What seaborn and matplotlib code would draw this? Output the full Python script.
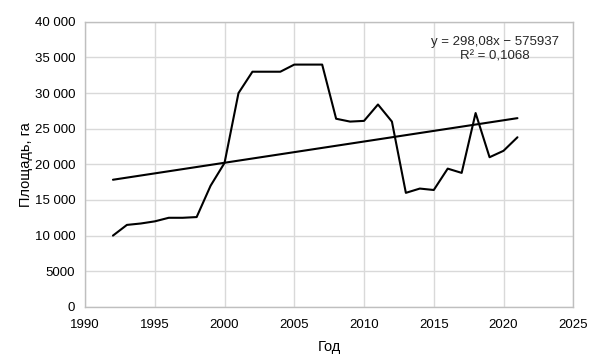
import numpy as np
import pandas as pd
import matplotlib
matplotlib.use("Agg")
import matplotlib.pyplot as plt
import matplotlib.ticker as mticker
import seaborn as sns

years = list(range(1992, 2022))
area = [10000, 11500, 11700, 12000, 12500, 12500, 12600, 17000, 20200, 30000,
        33000, 33000, 33000, 34000, 34000, 34000, 26400, 26000, 26100, 28400,
        26000, 16000, 16600, 16400, 19400, 18800, 27200, 21000, 21900, 23800]

# коэффициенты линии тренда с подписи
slope = 298.08
intercept = -575937
r2 = 0.1068

df = pd.DataFrame({"Год": years, "Площадь": area})
df["Тренд"] = slope * df["Год"] + intercept

sns.set_theme(style="whitegrid")
plt.rcParams["font.family"] = ["Liberation Sans", "DejaVu Sans"]

fig = plt.figure(figsize=(5.99, 3.64), dpi=100)
ax = fig.add_axes([0.142, 0.157, 0.815, 0.783])

sns.lineplot(data=df, x="Год", y="Площадь", color="black", linewidth=1.5, ax=ax)
sns.lineplot(data=df, x="Год", y="Тренд", color="black", linewidth=1.5, ax=ax)

ax.set_xlim(1990, 2025)
ax.set_ylim(0, 40000)
ax.xaxis.set_major_locator(mticker.MultipleLocator(5))
ax.yaxis.set_major_locator(mticker.MultipleLocator(5000))

def fmt(v, pos):
    v = int(v)
    if v >= 10000:
        return f"{v:,}".replace(",", " ")
    return str(v)

ax.yaxis.set_major_formatter(mticker.FuncFormatter(fmt))

ax.grid(True, color="#d9d9d9", linewidth=1)
for s in ax.spines.values():
    s.set_color("#bfbfbf")
    s.set_linewidth(1)
ax.tick_params(axis="both", labelsize=9.5, colors="black", length=0)
ax.tick_params(axis="x", pad=9)
ax.tick_params(axis="y", pad=7)

ax.set_xlabel("Год", fontsize=10.5, color="black", labelpad=6)
ax.set_ylabel("Площадь, га", fontsize=10.5, color="black", labelpad=1)

eq = f"y = {slope:.2f}x \u2212 {abs(intercept)}".replace(".", ",")
ax.text(2019.4, 37200, eq, ha="center", va="center", fontsize=9.5)
ax.text(2019.4, 35100, f"R\u00b2 = {r2:.4f}".replace(".", ","), ha="center", va="center", fontsize=9.5)

fig.savefig("out.png", dpi=100)
